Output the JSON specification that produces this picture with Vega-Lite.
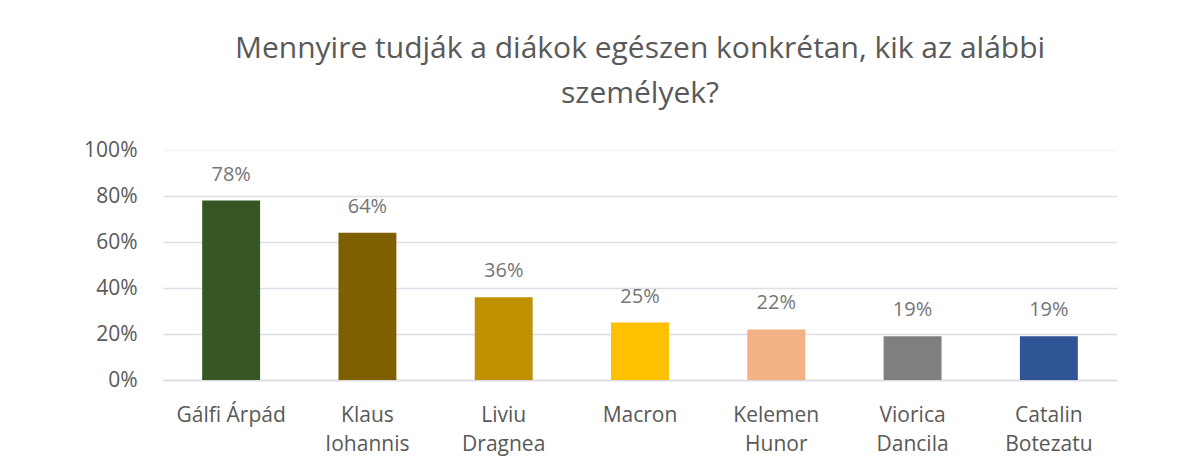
{
  "$schema": "https://vega.github.io/schema/vega-lite/v6.json",
  "autosize": "none",
  "width": 954,
  "height": 230,
  "padding": {"left": 163, "top": 150, "right": 86, "bottom": 92},
  "background": "white",
  "title": {
    "text": ["Mennyire tudják a diákok egészen konkrétan, kik az alábbi", "személyek?"],
    "fontSize": 30,
    "font": "Open Sans",
    "fontWeight": "normal",
    "color": "#595959",
    "lineHeight": 45,
    "anchor": "middle",
    "offset": 30
  },
  "data": {
    "values": [
      {"name": "Gálfi Árpád", "pct": 0.78, "color": "#375623"},
      {"name": "Klaus Iohannis", "pct": 0.64, "color": "#7f6000"},
      {"name": "Liviu Dragnea", "pct": 0.36, "color": "#bf9000"},
      {"name": "Macron", "pct": 0.25, "color": "#ffc000"},
      {"name": "Kelemen Hunor", "pct": 0.22, "color": "#f4b183"},
      {"name": "Viorica Dancila", "pct": 0.19, "color": "#7f7f7f"},
      {"name": "Catalin Botezatu", "pct": 0.19, "color": "#2f5597"}
    ]
  },
  "encoding": {
    "x": {
      "field": "name",
      "type": "nominal",
      "sort": null,
      "scale": {"paddingInner": 0.575, "paddingOuter": 0.2875},
      "axis": {
        "title": null,
        "labelAngle": 0,
        "labelFont": "Open Sans",
        "labelFontSize": 21,
        "labelColor": "#595959",
        "labelPadding": 24,
        "labelLineHeight": 29,
        "labelOverlap": false,
        "labelExpr": "datum.value == 'Gálfi Árpád' || datum.value == 'Macron' ? datum.value : split(datum.value, ' ')",
        "ticks": false,
        "domainColor": "#d9dce3",
        "domainWidth": 1.5
      }
    },
    "y": {
      "field": "pct",
      "type": "quantitative",
      "scale": {"domain": [0, 1]},
      "axis": {
        "title": null,
        "format": ".0%",
        "values": [0, 0.2, 0.4, 0.6, 0.8, 1],
        "labelFont": "Open Sans",
        "labelFontSize": 21,
        "labelColor": "#595959",
        "labelPadding": 26,
        "labelOverlap": false,
        "labelBound": false,
        "labelFlush": false,
        "ticks": false,
        "domain": false,
        "gridColor": {"condition": {"test": "datum.value == 1", "value": "#f3f3f3"}, "value": "#dbe0e8"},
        "gridWidth": 1.3
      }
    }
  },
  "layer": [
    {
      "mark": {"type": "bar"},
      "encoding": {
        "color": {"field": "color", "type": "nominal", "scale": null, "legend": null}
      }
    },
    {
      "mark": {"type": "text", "dy": -26, "baseline": "middle", "font": "Open Sans", "fontSize": 20, "color": "#757575"},
      "encoding": {
        "text": {"field": "pct", "type": "quantitative", "format": ".0%"}
      }
    }
  ],
  "config": {"view": {"stroke": null}}
}
